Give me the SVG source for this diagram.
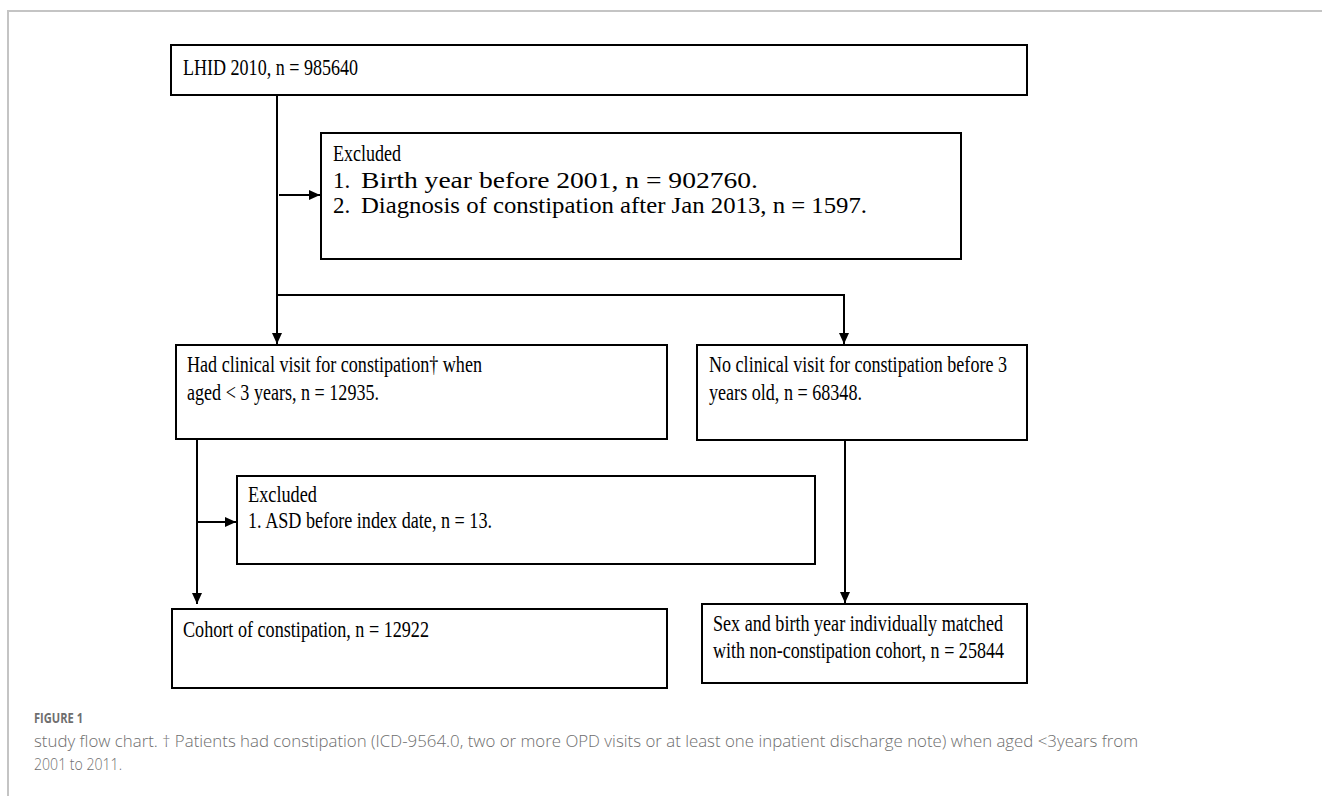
<svg xmlns="http://www.w3.org/2000/svg" width="1322" height="796" viewBox="0 0 1322 796">
<style>
.box{fill:#fff;stroke:#000;stroke-width:2}
.t{font-family:"Liberation Serif","Times New Roman",serif;font-size:23px;fill:#000}
.c{fill:none;stroke:#000;stroke-width:2}
.cap{font-family:"Open Sans","Liberation Sans",sans-serif;fill:#6e6e6e}
</style>
<defs>
<marker id="ah" markerUnits="userSpaceOnUse" markerWidth="12" markerHeight="12" viewBox="0 0 12 12" refX="11" refY="6" orient="auto">
<path d="M0,1 L11,6 L0,11 Z" fill="#000"/>
</marker>
</defs>
<rect width="1322" height="796" fill="#fff"/>
<path d="M8,796 V11 H1322" fill="none" stroke="#c4c4c4" stroke-width="2"/>

<g id="connectors">
<path class="c" d="M277,95 V344" marker-end="url(#ah)"/>
<path class="c" d="M277,295 H844 V344" marker-end="url(#ah)"/>
<path class="c" d="M279,195 H320" marker-end="url(#ah)"/>
<path class="c" d="M197,439 V604" marker-end="url(#ah)"/>
<path class="c" d="M197,522 H236" marker-end="url(#ah)"/>
<path class="c" d="M845,440 V603" marker-end="url(#ah)"/>
</g>

<g id="lhid">
<rect class="box" x="171" y="45" width="856" height="50"/>
<text class="t" x="183" y="75" textLength="175" lengthAdjust="spacingAndGlyphs">LHID 2010, n = 985640</text>
</g>

<g id="excluded1">
<rect class="box" x="321" y="133" width="640" height="126"/>
<text class="t" x="333" y="161" textLength="68" lengthAdjust="spacingAndGlyphs">Excluded</text>
<text class="t" x="333" y="188">1.</text>
<text class="t" x="361" y="188" textLength="397" lengthAdjust="spacingAndGlyphs">Birth year before 2001, n = 902760.</text>
<text class="t" x="333" y="213">2.</text>
<text class="t" x="361" y="213" textLength="506" lengthAdjust="spacingAndGlyphs">Diagnosis of constipation after Jan 2013, n = 1597.</text>
</g>

<g id="had-visit">
<rect class="box" x="176" y="345" width="491" height="94"/>
<text class="t" x="187" y="372" textLength="295" lengthAdjust="spacingAndGlyphs">Had clinical visit for constipation† when</text>
<text class="t" x="187" y="400" textLength="192" lengthAdjust="spacingAndGlyphs">aged &lt; 3 years, n = 12935.</text>
</g>

<g id="no-visit">
<rect class="box" x="697" y="345" width="330" height="95"/>
<text class="t" x="709" y="372" textLength="298" lengthAdjust="spacingAndGlyphs">No clinical visit for constipation before 3</text>
<text class="t" x="709" y="400" textLength="153" lengthAdjust="spacingAndGlyphs">years old, n = 68348.</text>
</g>

<g id="excluded2">
<rect class="box" x="237" y="476" width="578" height="88"/>
<text class="t" x="248" y="502" textLength="69" lengthAdjust="spacingAndGlyphs">Excluded</text>
<text class="t" x="248" y="528" textLength="244" lengthAdjust="spacingAndGlyphs">1. ASD before index date, n = 13.</text>
</g>

<g id="cohort">
<rect class="box" x="172" y="609" width="495" height="79"/>
<text class="t" x="183" y="637" textLength="246" lengthAdjust="spacingAndGlyphs">Cohort of constipation, n = 12922</text>
</g>

<g id="matched">
<rect class="box" x="702" y="604" width="325" height="79"/>
<text class="t" x="713" y="631" textLength="290" lengthAdjust="spacingAndGlyphs">Sex and birth year individually matched</text>
<text class="t" x="713" y="658" textLength="291" lengthAdjust="spacingAndGlyphs">with non-constipation cohort, n = 25844</text>
</g>

<g id="caption">
<text class="cap" x="34" y="723" font-size="14" font-weight="700" textLength="49" lengthAdjust="spacingAndGlyphs">FIGURE 1</text>
<text class="cap" x="34" y="747" font-size="17" font-weight="300" textLength="1104" lengthAdjust="spacingAndGlyphs">study flow chart. † Patients had constipation (ICD-9564.0, two or more OPD visits or at least one inpatient discharge note) when aged &lt;3years from</text>
<text class="cap" x="34" y="770" font-size="17" font-weight="300" textLength="88" lengthAdjust="spacingAndGlyphs">2001 to 2011.</text>
</g>
</svg>
